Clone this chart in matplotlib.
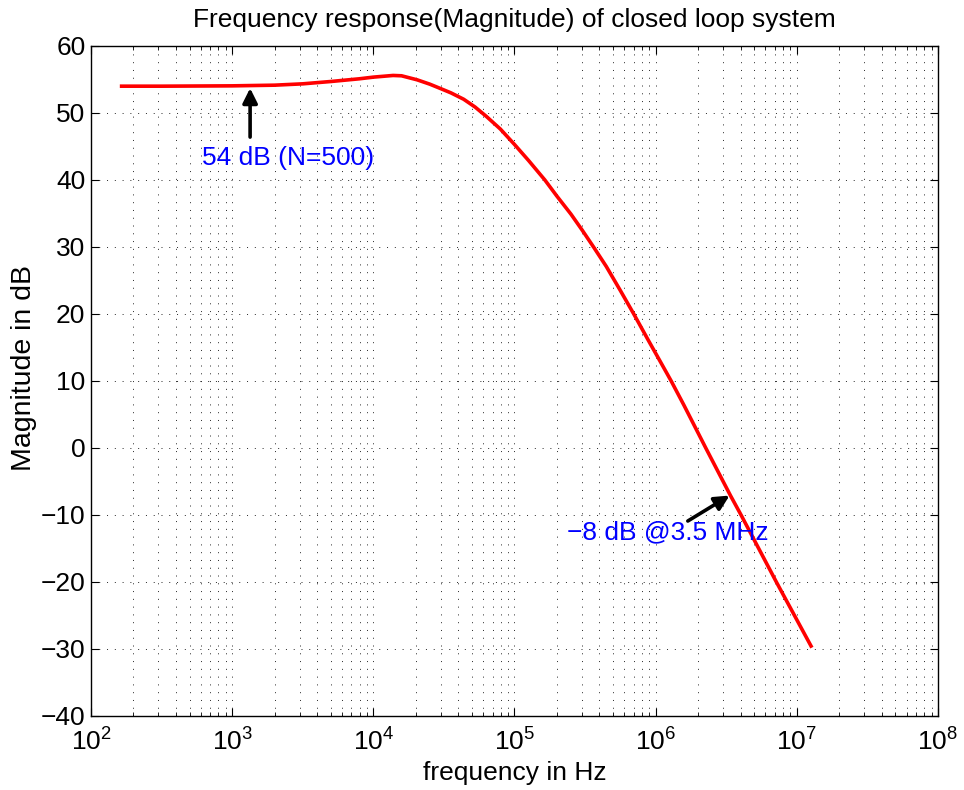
import matplotlib
matplotlib.use('Agg')
import matplotlib.pyplot as plt
from matplotlib.ticker import LogLocator, LogFormatterMathtext, MultipleLocator, NullFormatter

# values
freq_hz = [160, 316, 1000, 2000, 3162, 5012, 7943, 10000, 13800, 15850,
           20420, 25120, 29510, 35480, 43650, 52480, 63100, 79430, 100000,
           125900, 164100, 199500, 251200, 302000, 363100, 446700, 562300,
           699800, 891300, 1072000, 1288000, 1585000, 2265000, 3388000,
           4027000, 7161000, 12790000]
mag_db = [54.0, 54.0, 54.05, 54.15, 54.35, 54.7, 55.1, 55.35, 55.6, 55.55,
          54.95, 54.3, 53.7, 53.0, 52.05, 50.9, 49.5, 47.6, 45.3,
          42.9, 40.0, 37.6, 34.9, 32.5, 30.0, 27.1, 23.5,
          20.0, 16.0, 13.0, 10.0, 6.4, 0.0, -7.1,
          -10.0, -20.0, -29.8]
decade_ticks = [1e2, 1e3, 1e4, 1e5, 1e6, 1e7, 1e8]

note1_text = '54 dB (N=500)'
note1_tip = (1340, 53.7)
note1_tail = (1340, 46.4)
note1_pos = (2480, 43.3)

note2_text = '\u22128 dB @3.5 MHz'
note2_tip = (3340000, -7.1)
note2_tail = (1690000, -10.9)
note2_pos = (237000, -12.6)

plt.rcParams['font.family'] = ['Liberation Sans', 'DejaVu Sans']
plt.rcParams['mathtext.default'] = 'regular'

fig = plt.figure(figsize=(9.64, 7.9), dpi=100)
ax = fig.add_axes([0.0944, 0.0937, 0.8786, 0.8481])

ax.plot(freq_hz, mag_db, color='red', lw=2.6, solid_capstyle='butt')
ax.set_xscale('log')
ax.set_xlim(1e2, 1e8)
ax.set_ylim(-40, 60)
ax.yaxis.set_major_locator(MultipleLocator(10))
ax.set_xticks(decade_ticks)
ax.xaxis.set_minor_locator(LogLocator(base=10, subs=range(2, 10), numticks=100))
ax.xaxis.set_major_formatter(LogFormatterMathtext())
ax.xaxis.set_minor_formatter(NullFormatter())

ax.tick_params(which='both', direction='in', top=True, right=True, labelsize=19)
ax.tick_params(which='major', length=6, width=0.8)
ax.tick_params(axis='y', pad=4)
ax.tick_params(axis='x', pad=9)
ax.tick_params(which='minor', length=3, width=0.6)
grid_style = dict(ls=(0, (1, 7)), color='0.15', lw=0.7)
ax.grid(True, which='major', **grid_style)
ax.grid(True, which='minor', axis='x', **grid_style)
for s in ax.spines.values():
    s.set_linewidth(1.0)

ax.set_xlabel('frequency in Hz', fontsize=19)
ax.set_ylabel('Magnitude in dB', fontsize=20.5)
ax.xaxis.set_label_coords(0.5, -0.067)
ax.yaxis.set_label_coords(-0.064, 0.52)
ax.set_title('Frequency response(Magnitude) of closed loop system', fontsize=19, pad=14)

arrow = dict(arrowstyle='-|>', color='black', lw=2.6, mutation_scale=22, shrinkA=0, shrinkB=0)
ax.annotate('', xy=note1_tip, xytext=note1_tail, arrowprops=arrow)
ax.text(*note1_pos, note1_text, color='blue', fontsize=19, ha='center', va='center')
ax.annotate('', xy=note2_tip, xytext=note2_tail, arrowprops=arrow)
ax.text(*note2_pos, note2_text, color='blue', fontsize=19, ha='left', va='center')

fig.savefig('out.png', dpi=100)
